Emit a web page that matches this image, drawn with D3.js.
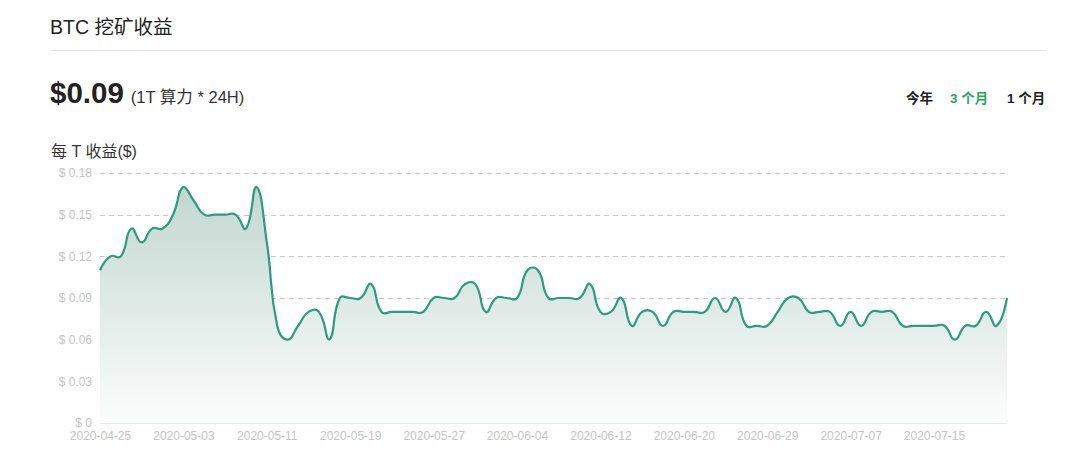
<!DOCTYPE html>
<html>
<head>
<meta charset="utf-8">
<script src="https://cdn.jsdelivr.net/npm/d3@7"></script>
<style>
  html, body { margin: 0; padding: 0; background: #fff; }
  svg { display: block; }
  text { font-family: "Liberation Sans", "Helvetica Neue", Arial, "Noto Sans CJK SC", sans-serif; }
</style>
</head>
<body>
<svg id="chart" width="1080" height="466"></svg>
<script>
const title = "BTC 挖矿收益";
const headline = "$0.09";
const headlineNote = "(1T 算力 * 24H)";
const rangeButtons = ["今年", "3 个月", "1 个月"];
const activeButton = "3 个月";
const axisTitle = "每 T 收益($)";

const dates = [
  "2020-04-25","2020-04-26","2020-04-27","2020-04-28","2020-04-29","2020-04-30",
  "2020-05-01","2020-05-02","2020-05-03","2020-05-04","2020-05-05","2020-05-06","2020-05-07",
  "2020-05-08","2020-05-09","2020-05-10","2020-05-11","2020-05-12","2020-05-13","2020-05-14",
  "2020-05-15","2020-05-16","2020-05-17","2020-05-18","2020-05-19","2020-05-20","2020-05-21",
  "2020-05-22","2020-05-23","2020-05-24","2020-05-25","2020-05-26","2020-05-27","2020-05-28",
  "2020-05-29","2020-05-30","2020-05-31","2020-06-01","2020-06-02","2020-06-03","2020-06-04",
  "2020-06-05","2020-06-06","2020-06-07","2020-06-08","2020-06-09","2020-06-10","2020-06-11",
  "2020-06-12","2020-06-13","2020-06-14","2020-06-15","2020-06-16","2020-06-17","2020-06-18",
  "2020-06-19","2020-06-20","2020-06-21","2020-06-22","2020-06-23","2020-06-24","2020-06-26",
  "2020-06-27","2020-06-28","2020-06-29","2020-06-30","2020-07-01","2020-07-02","2020-07-03",
  "2020-07-04","2020-07-05","2020-07-06","2020-07-07","2020-07-08","2020-07-09","2020-07-10",
  "2020-07-11","2020-07-12","2020-07-13","2020-07-14","2020-07-15","2020-07-16","2020-07-17",
  "2020-07-18","2020-07-19","2020-07-20","2020-07-21","2020-07-22"
];

const revenue = [
  0.11,0.12,0.12,0.14,0.13,0.14,
  0.14,0.15,0.17,0.16,0.15,0.15,0.15,
  0.15,0.14,0.17,0.13,0.07,0.06,0.07,
  0.08,0.08,0.06,0.09,0.09,0.09,0.10,
  0.08,0.08,0.08,0.08,0.08,0.09,0.09,
  0.09,0.10,0.10,0.08,0.09,0.09,0.09,
  0.11,0.11,0.09,0.09,0.09,0.09,0.10,
  0.08,0.08,0.09,0.07,0.08,0.08,0.07,
  0.08,0.08,0.08,0.08,0.09,0.08,0.09,
  0.07,0.07,0.07,0.08,0.09,0.09,0.08,
  0.08,0.08,0.07,0.08,0.07,0.08,0.08,
  0.08,0.07,0.07,0.07,0.07,0.07,0.06,
  0.07,0.07,0.08,0.07,0.09
];

const yTicks = [0, 0.03, 0.06, 0.09, 0.12, 0.15, 0.18];
const xTickLabels = ["2020-04-25","2020-05-03","2020-05-11","2020-05-19","2020-05-27","2020-06-04",
                     "2020-06-12","2020-06-20","2020-06-29","2020-07-07","2020-07-15"];

const svg = d3.select("#chart");
const plot = { left: 100, right: 1007, top: 173, bottom: 423 };

const x = d3.scalePoint().domain(dates).range([plot.left, plot.right]);
const y = d3.scaleLinear().domain([0, 0.18]).range([plot.bottom, plot.top]);

// Header
svg.append("text").attr("x", 50).attr("y", 34)
  .attr("font-size", 19.5).attr("fill", "#222").text(title);
svg.append("line").attr("x1", 50).attr("x2", 1047).attr("y1", 50.5).attr("y2", 50.5)
  .attr("stroke", "#e6e6e6").attr("stroke-width", 1);

const hl = svg.append("text").attr("x", 50).attr("y", 103);
hl.append("tspan").attr("font-size", 29.5).attr("font-weight", "bold").attr("fill", "#222").text(headline);
hl.append("tspan").attr("dx", 7).attr("font-size", 16.5).attr("fill", "#333").text(headlineNote);

const btnX = [906, 950, 1007];
rangeButtons.forEach((b, i) => {
  svg.append("text").attr("x", btnX[i]).attr("y", 103)
    .attr("font-size", 13.5).attr("font-weight", "bold")
    .attr("fill", b === activeButton ? "#28a55f" : "#1e1e1e").text(b);
});

svg.append("text").attr("x", 51).attr("y", 157)
  .attr("font-size", 16).attr("fill", "#333").text(axisTitle);

// Gridlines
svg.append("g").selectAll("line").data(yTicks.filter(d => d > 0)).join("line")
  .attr("x1", plot.left).attr("x2", plot.right)
  .attr("y1", d => Math.round(y(d)) + 0.5).attr("y2", d => Math.round(y(d)) + 0.5)
  .attr("stroke", "#c8c8c8").attr("stroke-dasharray", "5,4").attr("stroke-width", 1);

// Y axis labels
const yAxis = d3.axisLeft(y).tickValues(yTicks).tickSize(0).tickPadding(8)
  .tickFormat(d => "$ " + (d === 0 ? "0" : d3.format(".2f")(d)));
const yg = svg.append("g").attr("transform", `translate(${plot.left},0)`).call(yAxis);
yg.select(".domain").remove();
yg.selectAll("text").attr("font-size", 12).attr("fill", "#c4c4c4")
  .attr("font-family", "\"Liberation Sans\", Arial, sans-serif");

// Smooth path like ECharts v4 (smooth = 0.5, constrained to data bbox)
function smoothPath(pts, smooth) {
  const p = d3.path();
  const minX = d3.min(pts, d => d[0]), maxX = d3.max(pts, d => d[0]);
  const minY = d3.min(pts, d => d[1]), maxY = d3.max(pts, d => d[1]);
  const clamp = (c) => [Math.max(minX, Math.min(maxX, c[0])), Math.max(minY, Math.min(maxY, c[1]))];
  let cp0 = pts[0].slice();
  p.moveTo(pts[0][0], pts[0][1]);
  for (let i = 1; i < pts.length; i++) {
    const pt = pts[i], prev = pts[i - 1], next = pts[i + 1];
    let cp1, ratio = 0.5, v = [0, 0];
    if (!next) {
      cp1 = pt.slice();
    } else {
      v = [next[0] - prev[0], next[1] - prev[1]];
      const lp = Math.hypot(pt[0] - prev[0], pt[1] - prev[1]);
      const ln = Math.hypot(next[0] - pt[0], next[1] - pt[1]);
      ratio = ln / (ln + lp);
      cp1 = [pt[0] - v[0] * smooth * (1 - ratio), pt[1] - v[1] * smooth * (1 - ratio)];
    }
    const c0 = clamp(cp0), c1 = clamp(cp1);
    p.bezierCurveTo(c0[0], c0[1], c1[0], c1[1], pt[0], pt[1]);
    cp0 = [pt[0] + v[0] * smooth * ratio, pt[1] + v[1] * smooth * ratio];
  }
  return p;
}

const pts = dates.map((d, i) => [x(d), y(revenue[i])]);
const linePathStr = smoothPath(pts, 0.5).toString();
const areaStr = linePathStr + `L${x(dates[dates.length - 1])},${y(0)}L${x(dates[0])},${y(0)}Z`;

const defs = svg.append("defs");
const grad = defs.append("linearGradient").attr("id", "areaGrad")
  .attr("x1", 0).attr("y1", 0).attr("x2", 0).attr("y2", 1);
grad.append("stop").attr("offset", 0).attr("stop-color", "#c2d7d0");
grad.append("stop").attr("offset", 1).attr("stop-color", "#fcfdfd");

svg.append("path").attr("d", areaStr).attr("fill", "url(#areaGrad)");

// baseline
svg.append("line").attr("x1", plot.left).attr("x2", plot.right)
  .attr("y1", y(0) + 0.5).attr("y2", y(0) + 0.5).attr("stroke", "#ebebeb");

svg.append("path").attr("d", linePathStr).attr("fill", "none")
  .attr("stroke", "#2b9c7c").attr("stroke-width", 2.2).attr("stroke-linejoin", "round");

// X axis labels
const xAxis = d3.axisBottom(x).tickValues(xTickLabels).tickSize(0).tickPadding(8);
const xg = svg.append("g").attr("transform", `translate(0,${plot.bottom})`).call(xAxis);
xg.select(".domain").remove();
xg.selectAll("text").attr("font-size", 12).attr("fill", "#c4c4c4")
  .attr("font-family", "\"Liberation Sans\", Arial, sans-serif");
</script>
</body>
</html>
